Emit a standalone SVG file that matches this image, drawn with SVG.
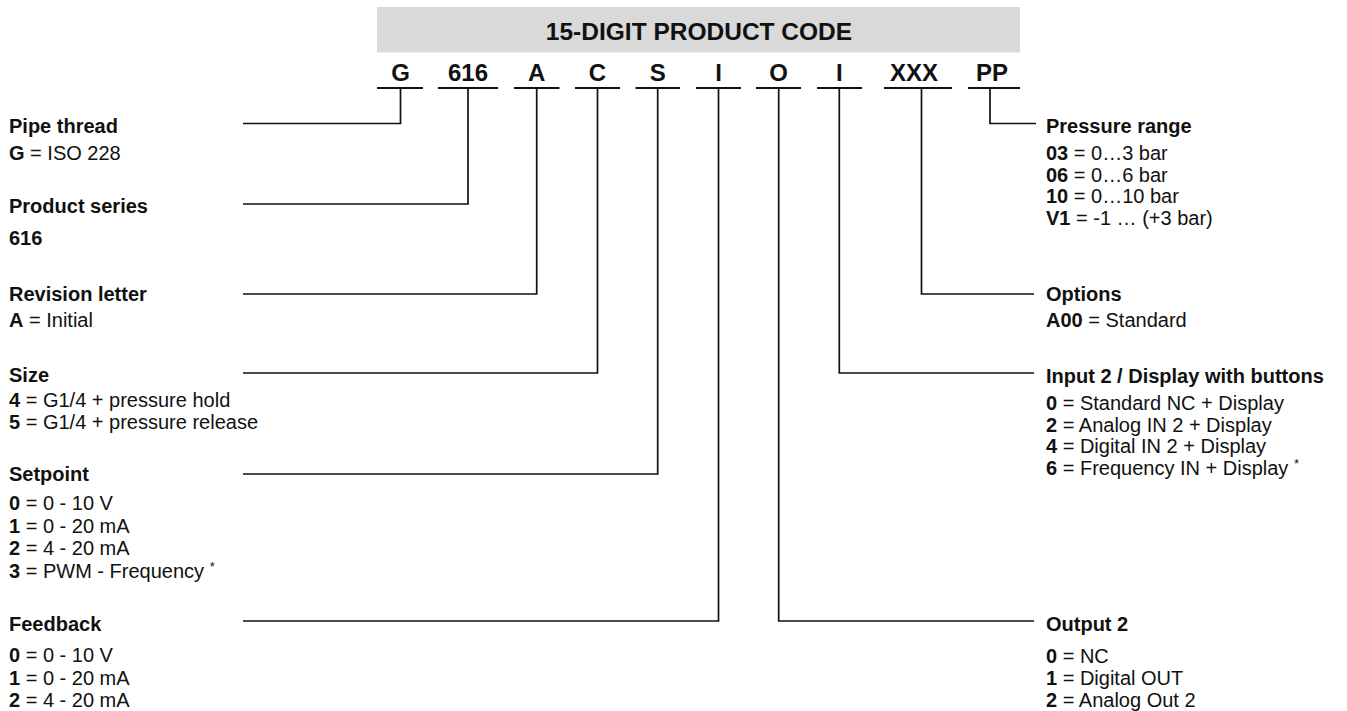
<svg xmlns="http://www.w3.org/2000/svg" width="1347" height="711" viewBox="0 0 1347 711">
<style>
  text { font-family: "Liberation Sans", Arial, sans-serif; fill: #111; }
  .h { font-size: 20px; font-weight: bold; }
  .t { font-size: 20px; }
  .t tspan.b { font-weight: bold; }
  .code { font-size: 24px; font-weight: bold; text-anchor: middle; }
  .title { font-size: 24.5px; font-weight: bold; text-anchor: middle; }
  .ul { stroke: #111; stroke-width: 2.2; }
  .conn { fill: none; stroke: #111; stroke-width: 1.7; }
  .sup { font-size: 13px; }
</style>
<rect width="1347" height="711" fill="#fff"/>
<g id="header">
  <rect x="377" y="7" width="643" height="45.5" fill="#d9d9d9"/>
  <text class="title" x="699" y="40">15-DIGIT PRODUCT CODE</text>
</g>
<g id="code">
  <text class="code" x="400.5" y="81">G</text>
  <text class="code" x="468" y="81">616</text>
  <text class="code" x="536.7" y="81">A</text>
  <text class="code" x="597.5" y="81">C</text>
  <text class="code" x="657.7" y="81">S</text>
  <text class="code" x="718.5" y="81">I</text>
  <text class="code" x="778.7" y="81">O</text>
  <text class="code" x="839.3" y="81">I</text>
  <text class="code" x="914" y="81">XXX</text>
  <text class="code" x="992" y="81">PP</text>
  <line class="ul" x1="377" y1="88" x2="423" y2="88"/>
  <line class="ul" x1="438" y1="88" x2="498" y2="88"/>
  <line class="ul" x1="514" y1="88" x2="559.5" y2="88"/>
  <line class="ul" x1="575" y1="88" x2="620" y2="88"/>
  <line class="ul" x1="635.5" y1="88" x2="680" y2="88"/>
  <line class="ul" x1="696" y1="88" x2="741" y2="88"/>
  <line class="ul" x1="756" y1="88" x2="801" y2="88"/>
  <line class="ul" x1="817" y1="88" x2="862" y2="88"/>
  <line class="ul" x1="884" y1="88" x2="952" y2="88"/>
  <line class="ul" x1="968" y1="88" x2="1020" y2="88"/>
</g>
<g id="connectors">
  <path class="conn" d="M400.5 89 V123.5 H243"/>
  <path class="conn" d="M468 89 V204 H243"/>
  <path class="conn" d="M536.7 89 V294 H243"/>
  <path class="conn" d="M597.5 89 V373 H243"/>
  <path class="conn" d="M657.7 89 V474 H243"/>
  <path class="conn" d="M718.5 89 V621 H243"/>
  <path class="conn" d="M778.7 89 V621 H1034"/>
  <path class="conn" d="M839.3 89 V373 H1034"/>
  <path class="conn" d="M921.5 89 V294 H1034"/>
  <path class="conn" d="M990 89 V123.5 H1036"/>
</g>
<g id="pipe-thread">
  <text class="h" x="9" y="133">Pipe thread</text>
  <text class="t" x="9" y="160"><tspan class="b">G</tspan> = ISO 228</text>
</g>
<g id="product-series">
  <text class="h" x="9" y="213">Product series</text>
  <text class="h" x="9" y="245">616</text>
</g>
<g id="revision-letter">
  <text class="h" x="9" y="301">Revision letter</text>
  <text class="t" x="9" y="327"><tspan class="b">A</tspan> = Initial</text>
</g>
<g id="size">
  <text class="h" x="9" y="382">Size</text>
  <text class="t" x="9" y="407"><tspan class="b">4</tspan> = G1/4 + pressure hold</text>
  <text class="t" x="9" y="429"><tspan class="b">5</tspan> = G1/4 + pressure release</text>
</g>
<g id="setpoint">
  <text class="h" x="9" y="481">Setpoint</text>
  <text class="t" x="9" y="510"><tspan class="b">0</tspan> = 0 - 10 V</text>
  <text class="t" x="9" y="532.5"><tspan class="b">1</tspan> = 0 - 20 mA</text>
  <text class="t" x="9" y="555"><tspan class="b">2</tspan> = 4 - 20 mA</text>
  <text class="t" x="9" y="577.5"><tspan class="b">3</tspan> = PWM - Frequency <tspan class="sup" dy="-7">*</tspan></text>
</g>
<g id="feedback">
  <text class="h" x="9" y="631">Feedback</text>
  <text class="t" x="9" y="662"><tspan class="b">0</tspan> = 0 - 10 V</text>
  <text class="t" x="9" y="684.5"><tspan class="b">1</tspan> = 0 - 20 mA</text>
  <text class="t" x="9" y="707"><tspan class="b">2</tspan> = 4 - 20 mA</text>
</g>
<g id="pressure-range">
  <text class="h" x="1046" y="133">Pressure range</text>
  <text class="t" x="1046" y="160"><tspan class="b">03</tspan> = 0…3 bar</text>
  <text class="t" x="1046" y="181.5"><tspan class="b">06</tspan> = 0…6 bar</text>
  <text class="t" x="1046" y="203"><tspan class="b">10</tspan> = 0…10 bar</text>
  <text class="t" x="1046" y="225"><tspan class="b">V1</tspan> = -1 … (+3 bar)</text>
</g>
<g id="options">
  <text class="h" x="1046" y="301">Options</text>
  <text class="t" x="1046" y="327"><tspan class="b">A00</tspan> = Standard</text>
</g>
<g id="input-2">
  <text class="h" x="1046" y="383">Input 2 / Display with buttons</text>
  <text class="t" x="1046" y="410"><tspan class="b">0</tspan> = Standard NC + Display</text>
  <text class="t" x="1046" y="431.5"><tspan class="b">2</tspan> = Analog IN 2 + Display</text>
  <text class="t" x="1046" y="453"><tspan class="b">4</tspan> = Digital IN 2 + Display</text>
  <text class="t" x="1046" y="474.5"><tspan class="b">6</tspan> = Frequency IN + Display <tspan class="sup" dy="-7">*</tspan></text>
</g>
<g id="output-2">
  <text class="h" x="1046" y="631">Output 2</text>
  <text class="t" x="1046" y="663"><tspan class="b">0</tspan> = NC</text>
  <text class="t" x="1046" y="685"><tspan class="b">1</tspan> = Digital OUT</text>
  <text class="t" x="1046" y="706.5"><tspan class="b">2</tspan> = Analog Out 2</text>
</g>
</svg>
